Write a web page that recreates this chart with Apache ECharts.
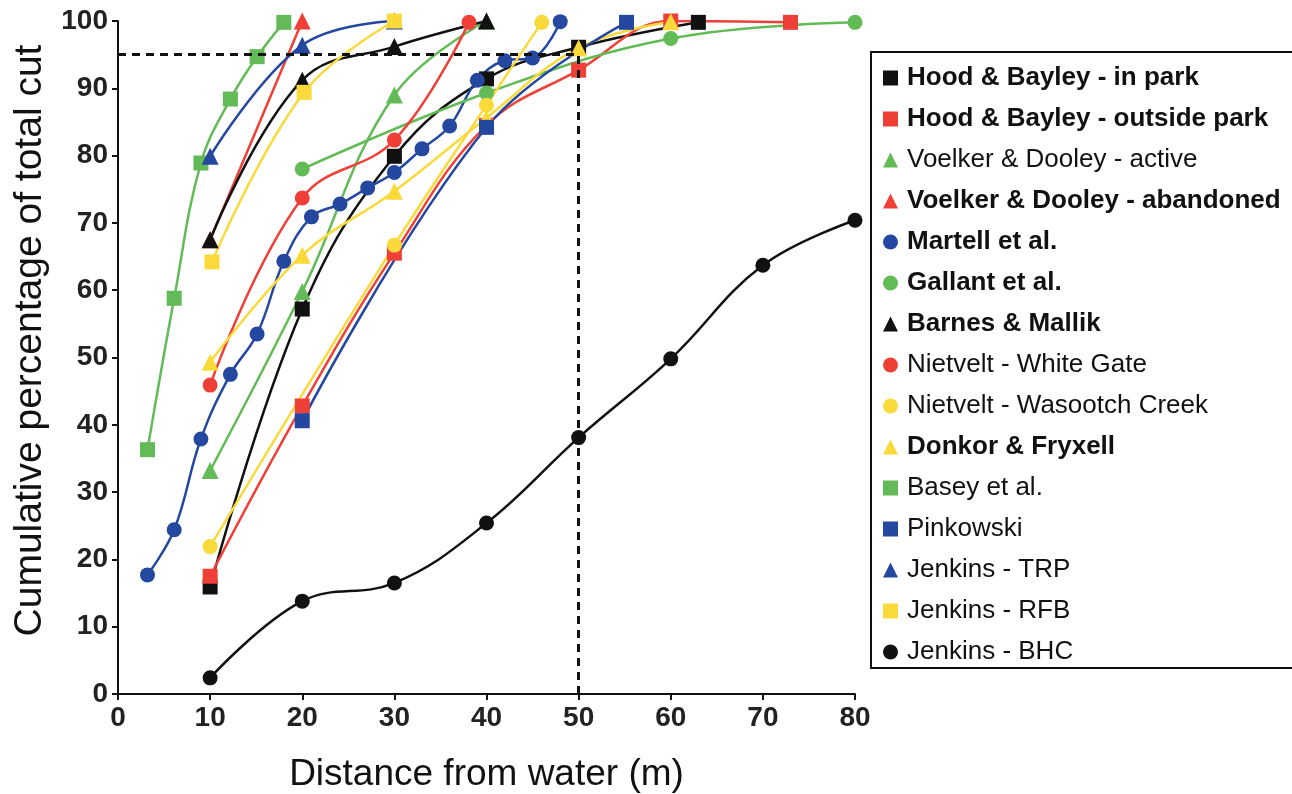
<!DOCTYPE html>
<html>
<head>
<meta charset="utf-8">
<script src="https://cdn.jsdelivr.net/npm/echarts@6/dist/echarts.min.js"></script>
<style>
  html, body { margin: 0; padding: 0; background: #fff; }
  #main { width: 1292px; height: 794px; }
</style>
</head>
<body>
<div id="main"></div>
<script>
// colours used in the figure
const RED = '#ee4036', GREEN = '#62bb56', BLUE = '#2447a0', YELLOW = '#fad93b', BLACK = '#111111';

// [distance (m), cumulative %]
const hoodInPark = [[10, 15.9], [20, 57.2], [30, 79.9], [40, 91.4], [50, 96.1], [63, 99.8]];
const hoodOutside = [[10, 17.5], [20, 42.8], [30, 65.5], [40, 84.5], [50, 92.7], [60, 100], [73, 99.8]];
const voelkerActive = [[10, 33.2], [20, 59.8], [30, 89.0], [40, 100]];
const voelkerAbandoned = [[10, 67.5], [20, 100]];
const martell = [[3.2, 17.7], [6.1, 24.4], [9, 37.9], [12.2, 47.5], [15.1, 53.5], [18, 64.3], [21, 70.9], [24.1, 72.8],
  [27.1, 75.2], [30, 77.5], [33, 81.0], [36, 84.4], [39, 91.2], [42, 94.1], [45, 94.5], [48, 99.9]];
const gallant = [[20, 78.0], [40, 89.3], [60, 97.4], [80, 99.8]];
const barnes = [[10, 67.5], [20, 91.2], [30, 96.2], [40, 100]];
const whiteGate = [[10, 45.9], [20, 73.7], [30, 82.3], [38.1, 99.8]];
const wasootch = [[10, 21.9], [30, 66.7], [40, 87.5], [46, 99.8]];
const donkor = [[10, 49.3], [20, 65.2], [30, 74.7], [40, 85.6], [50, 96.0], [60, 99.9]];
const basey = [[3.2, 36.3], [6.1, 58.8], [9, 78.9], [12.2, 88.4], [15.1, 94.7], [18, 99.8]];
const pinkowski = [[20, 40.6], [40, 84.2], [55.2, 99.8]];
const jenkinsTRP = [[10, 79.9], [20, 96.4], [30, 100]];
const jenkinsRFB = [[10.2, 64.2], [20.2, 89.4], [30, 100]];
const jenkinsBHC = [[10, 2.4], [20, 13.8], [30, 16.5], [40, 25.4], [50, 38.1], [60, 49.8], [70, 63.7], [80, 70.4]];

const xTicks = [0, 10, 20, 30, 40, 50, 60, 70, 80];
const yTicks = [0, 10, 20, 30, 40, 50, 60, 70, 80, 90, 100];

// name, data, colour, symbol, bold legend text
const studies = [
  ['Hood & Bayley - in park', hoodInPark, BLACK, 'rect', true],
  ['Hood & Bayley - outside park', hoodOutside, RED, 'rect', true],
  ['Voelker & Dooley - active', voelkerActive, GREEN, 'triangle', false],
  ['Voelker & Dooley - abandoned', voelkerAbandoned, RED, 'triangle', true],
  ['Martell et al.', martell, BLUE, 'circle', true],
  ['Gallant et al.', gallant, GREEN, 'circle', true],
  ['Barnes & Mallik', barnes, BLACK, 'triangle', true],
  ['Nietvelt - White Gate', whiteGate, RED, 'circle', false],
  ['Nietvelt - Wasootch Creek', wasootch, YELLOW, 'circle', false],
  ['Donkor & Fryxell', donkor, YELLOW, 'triangle', true],
  ['Basey et al.', basey, GREEN, 'rect', false],
  ['Pinkowski', pinkowski, BLUE, 'rect', false],
  ['Jenkins - TRP', jenkinsTRP, BLUE, 'triangle', false],
  ['Jenkins - RFB', jenkinsRFB, YELLOW, 'rect', false],
  ['Jenkins - BHC', jenkinsBHC, BLACK, 'circle', false]
];

const FONT = '"Liberation Sans", Arial, sans-serif';

let myChart = echarts.init(document.getElementById('main'), null, { renderer: 'canvas' });

let series = studies.map(s => ({
  name: s[0],
  type: 'line',
  data: s[1],
  smooth: 0.4,
  symbol: s[3],
  symbolSize: s[3] === 'triangle' ? 17 : 15,
  showAllSymbol: true,
  color: s[2],
  lineStyle: { color: s[2], width: 2.5 },
  itemStyle: { color: s[2] },
  emphasis: { disabled: true }
}));

// dashed guide lines at 95 % / 50 m
series.push({
  name: 'guide',
  type: 'line',
  data: [],
  silent: true,
  markLine: {
    silent: true,
    symbol: 'none',
    label: { show: false },
    lineStyle: { color: BLACK, type: [8, 6], width: 3 },
    data: [
      [{ coord: [0, 95] }, { coord: [50, 95] }],
      [{ coord: [50, 0] }, { coord: [50, 95] }]
    ]
  }
});

let option = {
  animation: false,
  backgroundColor: '#fff',
  grid: { left: 118, right: 437, top: 21, bottom: 100, containLabel: false, outerBoundsMode: 'none' },
  xAxis: {
    type: 'value',
    min: 0, max: 80, interval: 10,
    name: 'Distance from water (m)',
    nameLocation: 'middle',
    nameGap: 62,
    nameTextStyle: { fontSize: 37, color: BLACK, fontFamily: FONT },
    axisLine: { lineStyle: { color: BLACK, width: 2 } },
    axisTick: { show: true, length: 6, lineStyle: { color: BLACK, width: 2 } },
    axisLabel: {
      fontSize: 28, fontWeight: 'bold', color: '#222', fontFamily: FONT, margin: 10,
      formatter: v => xTicks.includes(v) ? String(v) : ''
    },
    splitLine: { show: false }
  },
  yAxis: {
    type: 'value',
    min: 0, max: 100, interval: 10,
    name: 'Cumulative percentage of total cut',
    nameLocation: 'middle',
    nameGap: 68,
    nameTextStyle: { fontSize: 39, color: BLACK, fontFamily: FONT, padding: [0, 0, 0, 34] },
    axisLine: { show: true, lineStyle: { color: BLACK, width: 2 } },
    axisTick: { show: true, length: 6, lineStyle: { color: BLACK, width: 2 } },
    axisLabel: {
      fontSize: 28, fontWeight: 'bold', color: '#222', fontFamily: FONT, margin: 10,
      formatter: v => yTicks.includes(v) ? String(v) : ''
    },
    splitLine: { show: false }
  },
  legend: {
    orient: 'vertical',
    left: 871,
    top: 52,
    padding: [13, 24, 3, 12],
    itemWidth: 15,
    itemHeight: 15,
    itemGap: 15,
    borderColor: BLACK,
    borderWidth: 2,
    textStyle: { fontSize: 26, lineHeight: 26, color: BLACK, fontFamily: FONT, padding: [0, 0, 0, 4] },
    data: studies.map(s => ({
      name: s[0],
      icon: s[3],
      itemStyle: { color: s[2] },
      textStyle: { fontWeight: s[4] ? 'bold' : 'normal', fontSize: 26, lineHeight: 26, padding: [0, 0, 0, 4] }
    }))
  },
  series: series
};

option && myChart.setOption(option);
</script>
</body>
</html>
